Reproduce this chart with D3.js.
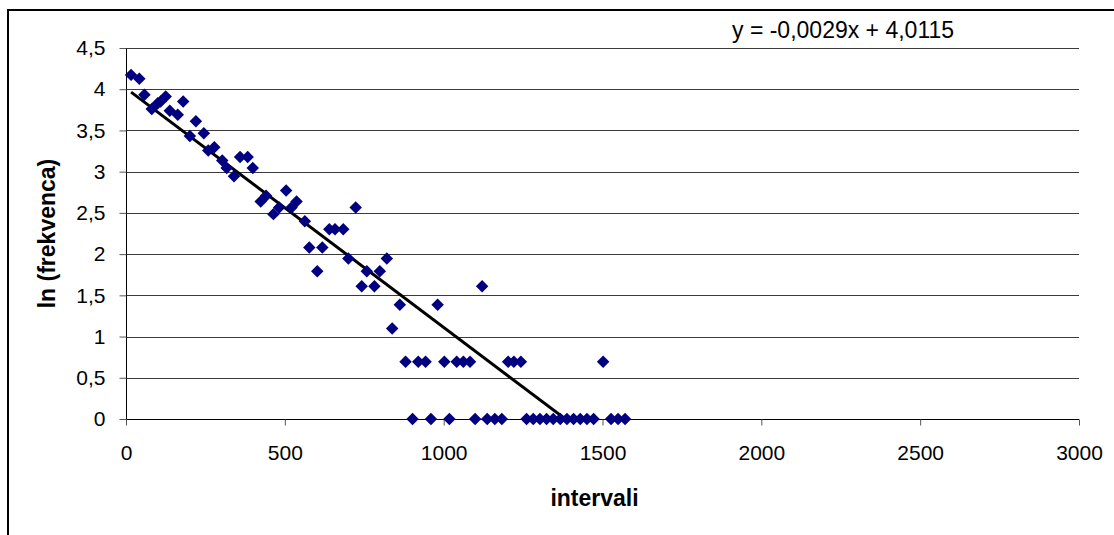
<!DOCTYPE html>
<html>
<head>
<meta charset="utf-8">
<script src="https://cdn.jsdelivr.net/npm/d3@7"></script>
<style>
  html, body { margin: 0; padding: 0; background: #fff; }
  svg { display: block; }
  text { font-family: Arial, "Liberation Sans", sans-serif; fill: #000; }
</style>
</head>
<body>
<svg id="chart" width="1114" height="535"></svg>
<script>
// Interval midpoints and ln of observed frequencies
const intervals = [
  16, 42, 58, 81, 100, 109, 125, 138, 163, 180,
  201, 220, 245, 259, 278, 303, 317, 340, 359, 383,
  399, 424, 441, 464, 482, 504, 521, 537, 563, 577,
  602, 618, 640, 658, 684, 700, 723, 742, 758, 782,
  799, 821, 838, 862, 880, 920, 943, 981, 1002, 1041,
  1062, 1083, 1121, 1203, 1221, 1243, 1502,
  902, 960, 1018, 1099, 1137, 1161, 1183, 1261, 1282, 1303,
  1324, 1345, 1367, 1388, 1409, 1430, 1451, 1472, 1527, 1549, 1571
];
const lnFreq = [
  4.174, 4.127, 3.932, 3.761, 3.829, 3.850, 3.912, 3.738, 3.689, 3.850,
  3.434, 3.611, 3.466, 3.258, 3.296, 3.135, 3.045, 2.944, 3.178, 3.178,
  3.045, 2.639, 2.708, 2.485, 2.565, 2.773, 2.565, 2.639, 2.398, 2.079,
  1.792, 2.079, 2.303, 2.303, 2.303, 1.946, 2.565, 1.609, 1.792, 1.609,
  1.792, 1.946, 1.099, 1.386, 0.693, 0.693, 0.693, 1.386, 0.693, 0.693,
  0.693, 0.693, 1.609, 0.693, 0.693, 0.693, 0.693,
  0, 0, 0, 0, 0, 0, 0, 0, 0, 0,
  0, 0, 0, 0, 0, 0, 0, 0, 0, 0, 0
];

// Linear trend: y = slope * x + intercept
const trendSlope = -0.0029;
const trendIntercept = 4.0115;
const trendLabel = "y = -0,0029x + 4,0115";

const xTicks = [0, 500, 1000, 1500, 2000, 2500, 3000];
const yTicks = [0, 0.5, 1, 1.5, 2, 2.5, 3, 3.5, 4, 4.5];
const xTitle = "intervali";
const yTitle = "ln (frekvenca)";

const svg = d3.select("#chart");
const plot = { left: 126, right: 1079, top: 48, bottom: 419 };

const x = d3.scaleLinear().domain([0, 3000]).range([plot.left, plot.right]);
const y = d3.scaleLinear().domain([0, 4.5]).range([plot.bottom, plot.top]);
const fmt = d => String(d).replace(".", ",");

// Chart area frame
svg.append("rect")
  .attr("x", 8).attr("y", 10)
  .attr("width", 1200).attr("height", 600)
  .attr("fill", "#fff").attr("stroke", "#000").attr("stroke-width", 2);

// Horizontal gridlines
svg.append("g")
  .selectAll("line")
  .data(yTicks.filter(d => d > 0))
  .join("line")
  .attr("x1", plot.left).attr("x2", plot.right)
  .attr("y1", d => Math.round(y(d)) + 0.5).attr("y2", d => Math.round(y(d)) + 0.5)
  .attr("stroke", "#3a3a3a").attr("stroke-width", 1);

// Axes
const xAxis = svg.append("g")
  .attr("transform", `translate(0,${plot.bottom + 0.5})`)
  .call(d3.axisBottom(x).tickValues(xTicks).tickFormat(d => d).tickSize(6).tickPadding(20));
const yAxis = svg.append("g")
  .attr("transform", `translate(${plot.left + 0.5},0)`)
  .call(d3.axisLeft(y).tickValues(yTicks).tickFormat(fmt).tickSize(7).tickPadding(14));

[xAxis, yAxis].forEach(g => {
  g.select(".domain").attr("stroke", "#000").attr("stroke-width", 1);
  g.selectAll(".tick line").attr("stroke", "#555");
  g.selectAll(".tick text")
    .attr("font-family", "Arial, 'Liberation Sans', sans-serif")
    .attr("font-size", 21).attr("fill", "#000");
});
xAxis.select(".domain").attr("d", `M${plot.left},0H${plot.right}`);
yAxis.select(".domain").attr("d", `M0,${plot.bottom}V${plot.top}`);

// Trend line, clipped to the plot area
svg.append("clipPath").attr("id", "plotClip")
  .append("rect")
  .attr("x", plot.left).attr("y", plot.top)
  .attr("width", plot.right - plot.left).attr("height", plot.bottom - plot.top);

const xMin = d3.min(intervals), xMax = d3.max(intervals);
svg.append("line")
  .attr("clip-path", "url(#plotClip)")
  .attr("x1", x(xMin)).attr("y1", y(trendSlope * xMin + trendIntercept))
  .attr("x2", x(xMax)).attr("y2", y(trendSlope * xMax + trendIntercept))
  .attr("stroke", "#000").attr("stroke-width", 3);

// Diamond markers
const diamond = d3.symbol().type(d3.symbolSquare).size(78);
svg.append("g")
  .selectAll("path")
  .data(intervals.map((v, i) => [v, lnFreq[i]]))
  .join("path")
  .attr("d", diamond)
  .attr("transform", d => `translate(${x(d[0])},${y(d[1])}) rotate(45)`)
  .attr("fill", "#000080");

// Trend equation
svg.append("text")
  .attr("x", 732).attr("y", 38)
  .attr("font-size", 23)
  .text(trendLabel);

// Axis titles
svg.append("text")
  .attr("x", (plot.left + plot.right) / 2 - 8).attr("y", 506)
  .attr("text-anchor", "middle")
  .attr("font-size", 23).attr("font-weight", "bold")
  .text(xTitle);

svg.append("text")
  .attr("transform", `translate(55,${(plot.top + plot.bottom) / 2}) rotate(-90)`)
  .attr("text-anchor", "middle")
  .attr("font-size", 23).attr("font-weight", "bold")
  .text(yTitle);
</script>
</body>
</html>
